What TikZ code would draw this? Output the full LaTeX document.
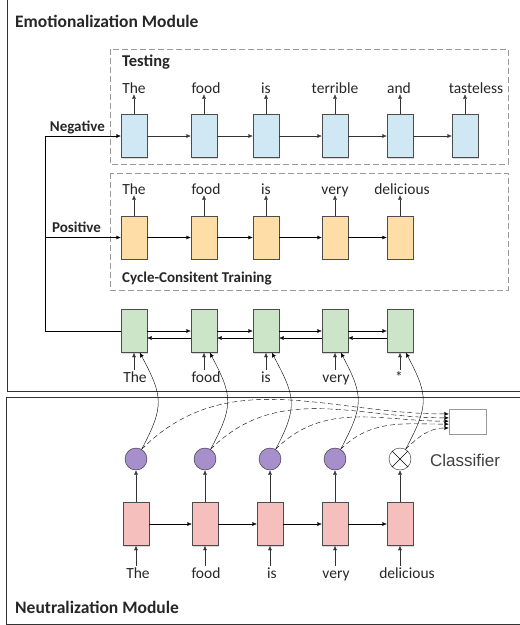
\documentclass[tikz,border=0pt]{standalone}
\usepackage{fontspec}
\setmainfont{Carlito}
\newfontfamily\arialfont{Liberation Sans}
\usepackage{xcolor}
\usetikzlibrary{arrows.meta,calc,shadows}
\definecolor{negfill}{HTML}{CFE8F4}
\definecolor{posfill}{HTML}{FFDDA6}
\definecolor{encfill}{HTML}{CCE5C8}
\definecolor{neufill}{HTML}{F5BFBD}
\definecolor{attfill}{HTML}{A78FCC}
\definecolor{ink}{HTML}{262626}

\begin{document}
\begin{tikzpicture}[x=1pt,y=-1pt,>={Latex[length=4.5pt,width=4pt]},
	cell/.style={draw=black!70,minimum width=26pt,minimum height=43pt,inner sep=0pt,
		drop shadow={shadow xshift=1.2pt,shadow yshift=-1.2pt,opacity=.3}},
	word/.style={font=\fontsize{15.5}{16}\selectfont,text=ink,anchor=base,inner sep=1pt,text height=11pt,text depth=0pt},
	modtitle/.style={font=\bfseries\fontsize{17.5}{18}\selectfont,text=ink,anchor=base west,inner sep=0pt},
	sublabel/.style={font=\bfseries\fontsize{15}{16}\selectfont,text=ink,anchor=base west,inner sep=0pt},
	phase/.style={draw=black!40,dash pattern=on 6pt off 3pt},
	dot/.style={circle,draw=black!85,fill=attfill,minimum size=22pt,inner sep=0pt}]
	\useasboundingbox (0,0) rectangle (520,625);
	\clip (0,0) rectangle (520,625);
	\draw[black!80] (7,-2) rectangle (530,391);
	\draw[black!80] (6,397) rectangle (530,624);
	\node[modtitle] (emo) at (15,27) {Emotionalization Module};
	\node[modtitle] (neu) at (15,613) {Neutralization Module};
	\draw[phase] (110,49) rectangle (508,164);
	\draw[phase] (110,173) rectangle (508,290);
	\node[sublabel,font=\bfseries\fontsize{16.5}{17}\selectfont] (test) at (122,66) {Testing};
	\node[sublabel] (cyc) at (122,282) {Cycle-Consitent Training};
	\node[sublabel,anchor=base east] (neg) at (105,131) {Negative};
	\node[sublabel,anchor=base east] (pos) at (101,232) {Positive};
	% testing decoder
	\foreach \x/\w/\wx [count=\i] in {134/The/134,204/food/206,266/is/266,335/terrible/335,400/and/399,465/tasteless/476}{
		\node[cell,fill=negfill] (n\i) at (\x,136) {};
		\node[word] (nw\i) at (\wx,93) {\w};
		\draw[->,black!80] (n\i.north) -- (n\i.north |- nw\i.south);
	}
	% training decoder
	\foreach \x/\w/\wx [count=\i] in {134/The/134,204/food/206,266/is/266,335/very/335,400/delicious/402}{
		\node[cell,fill=posfill] (o\i) at (\x,237.5) {};
		\node[word] (ow\i) at (\wx,194) {\w};
		\draw[->,black!80] (o\i.north) -- (o\i.north |- ow\i.south);
	}
	% encoder
	\foreach \x/\w/\wx [count=\i] in {134/The/135,204/food/206,266/is/266,335/very/336,400/*/399}{
		\node[cell,fill=encfill] (g\i) at (\x,331) {};
		\node[word] (gw\i) at (\wx,382) {\w};
		\draw[->,black!80] (g\i.south |- gw\i.north) -- (g\i.south);
	}
	% neutralization
	\foreach \x/\w/\wx [count=\i] in {136/The/138,205/food/206,270/is/272,335/very/336,400/delicious/407}{
		\node[cell,fill=neufill] (p\i) at (\x,524) {};
		\node[word] (pw\i) at (\wx,578) {\w};
		\draw[->,black!80] (p\i.south |- pw\i.north) -- (p\i.south);
	}
	\foreach \x [count=\i] in {136,205,270,335}
		\node[dot] (c\i) at (\x,459) {};
	\node[dot,fill=white] (c5) at (400,459) {};
	\draw (c5.45) -- (c5.225) (c5.135) -- (c5.-45);
	\foreach \i [evaluate=\i as \j using int(\i+1)] in {1,...,4}{
		\draw[->,black!80] (n\i) -- (n\j);
		\draw[->] (o\i) -- (o\j);
		\draw[->] (g\i) -- (g\j);
		\draw[->] ($(g\j.west)+(0,7)$) -- ($(g\i.east)+(0,7)$);
		\draw[->] (p\i) -- (p\j);
	}
	\draw[->,black!80] (n5) -- (n6);
	\foreach \i in {1,...,5}{
		\draw[->,black!80] (p\i) -- (c\i);
		\draw[->] (c\i.60) to[out=62,in=-62,looseness=1.3] (g\i.-75);
	}
	\coordinate (bus) at (45,136);
	\draw[->] (bus) -- (n1);
	\draw[->] (bus |- o1) -- (o1);
	\draw (bus) |- (g1.west);
	\node[draw=black!40,fill=white,minimum width=37pt,minimum height=25pt,
		drop shadow={shadow xshift=1.2pt,shadow yshift=-1.2pt,opacity=.25}] (cls) at (467.5,421.5) {};
	\node[font=\arialfont\fontsize{17}{18}\selectfont,text=black!75,anchor=base west,inner sep=0pt] (clst) at (430,466) {Classifier};
	\foreach \i/\a in {1/158,2/169,3/179,4/188,5/199}
		\draw[->,dash pattern=on 5pt off 3pt] (c\i.60) to[out=45,in=180] (cls.\a);
\end{tikzpicture}
\end{document}
